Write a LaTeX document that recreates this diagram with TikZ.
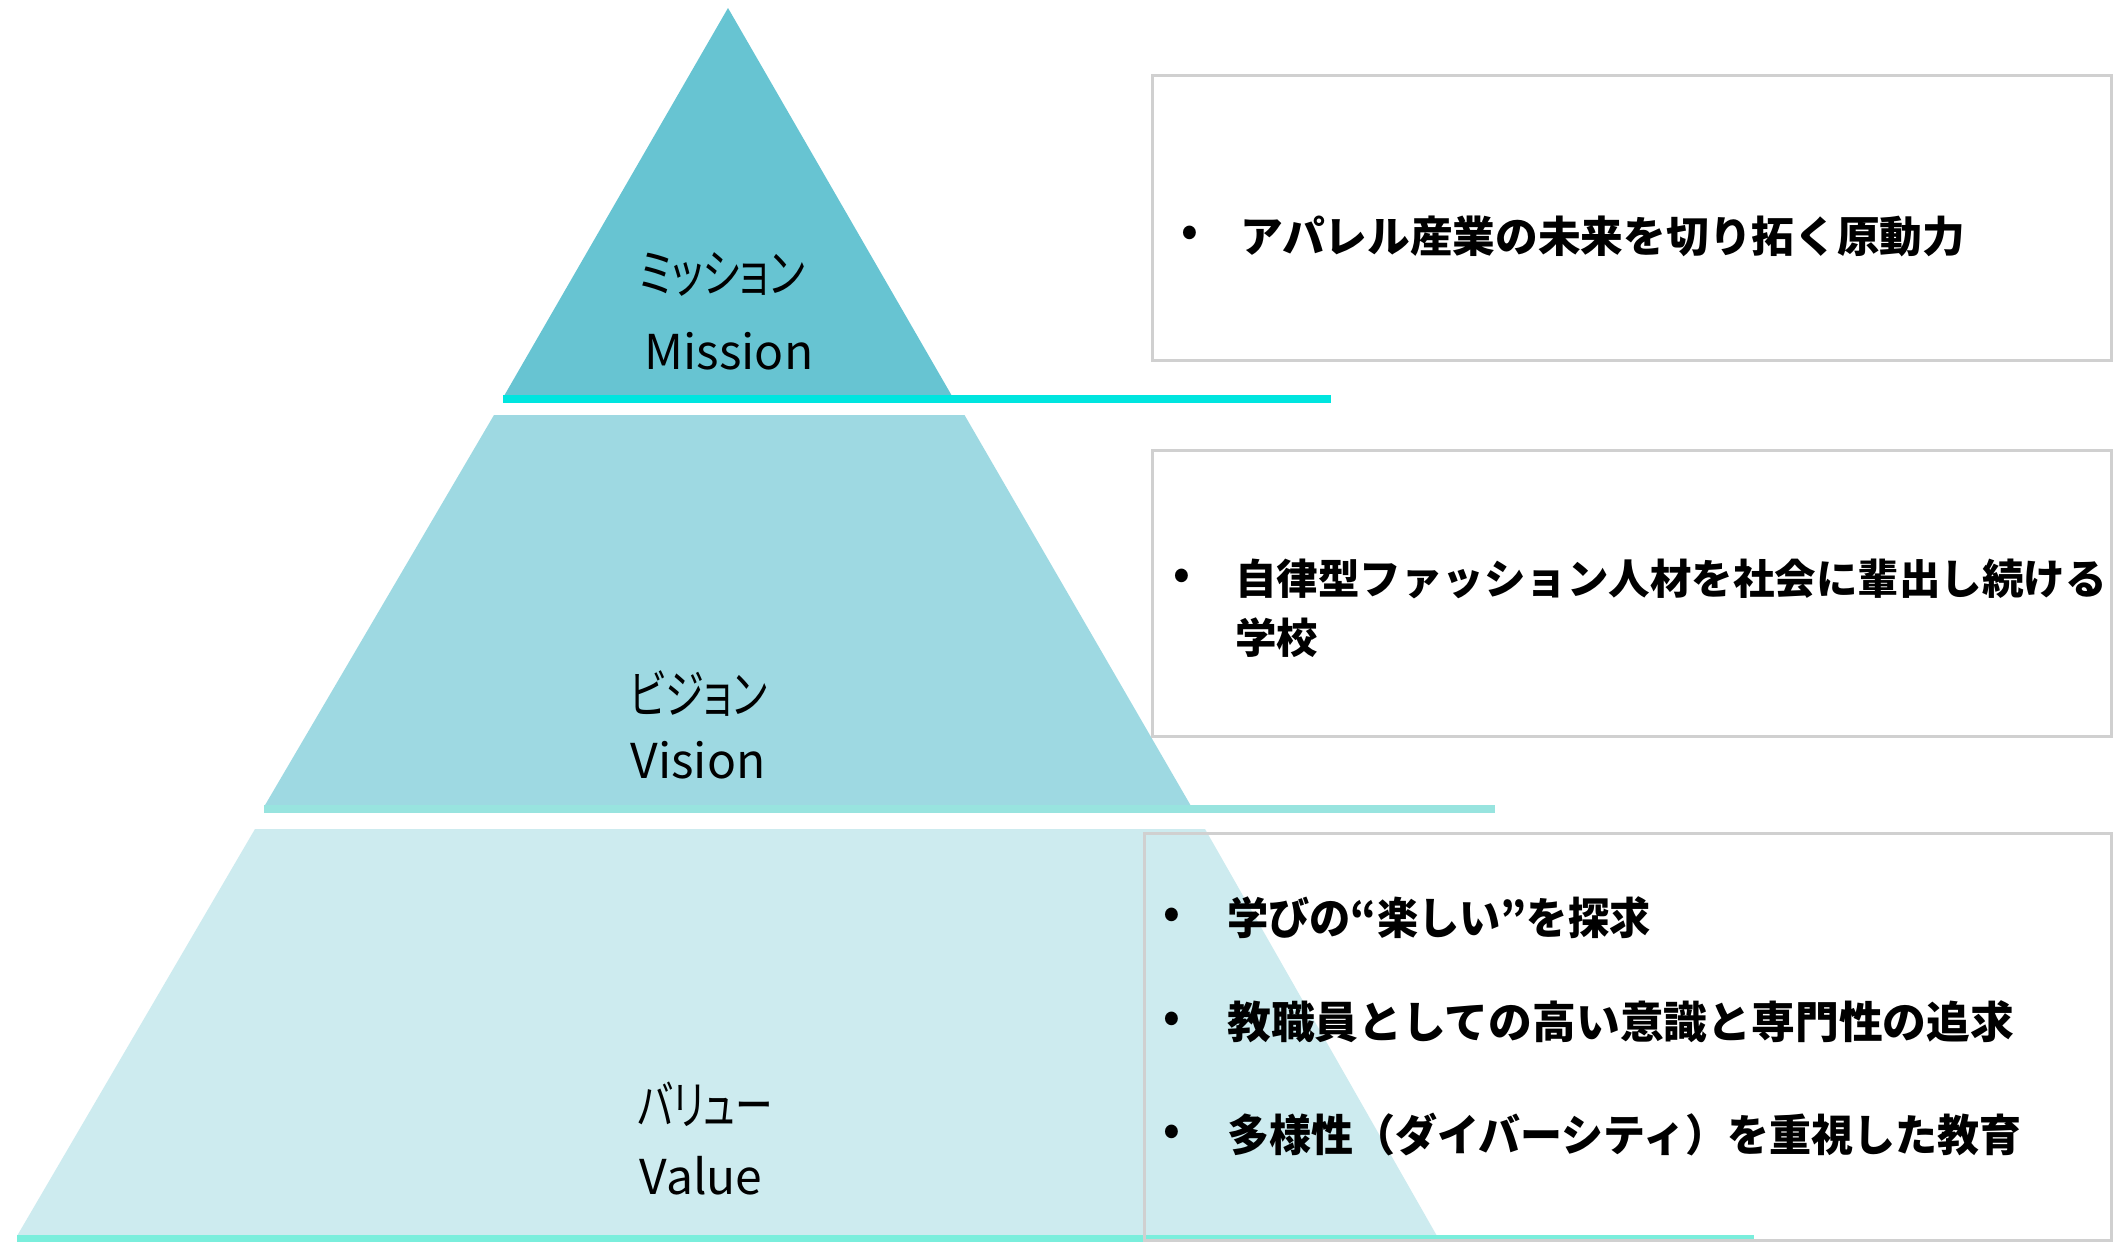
\documentclass[tikz,border=0pt]{standalone}
\usepackage{fontspec}
\newfontfamily\jp{Noto Sans CJK JP}
\newfontfamily\jplabel{Noto Sans CJK JP}[CharacterWidth=AlternateProportional]
\definecolor{missionfill}{RGB}{103,196,210}
\definecolor{visionfill}{RGB}{158,217,226}
\definecolor{valuefill}{RGB}{205,235,239}
\definecolor{missionline}{RGB}{0,229,223}
\definecolor{visionline}{RGB}{152,228,223}
\definecolor{valueline}{RGB}{122,238,220}
\definecolor{boxgray}{RGB}{208,208,208}
\tikzset{
  lbl/.style={inner sep=0pt, font=\jplabel\fontsize{48}{56}\selectfont},
  kana/.style={inner sep=0pt, font=\jplabel\fontsize{52}{60}\selectfont},
  bulletA/.style={inner sep=0pt, font=\jp\bfseries\fontsize{42}{50}\selectfont},
  txtA/.style={inner sep=0pt, anchor=west, font=\jp\bfseries\fontsize{42.7}{50}\selectfont},
  txtB/.style={inner sep=0pt, anchor=west, font=\jp\bfseries\fontsize{41.5}{48}\selectfont},
  txtC/.style={inner sep=0pt, anchor=west, font=\jp\bfseries\fontsize{43.8}{52}\selectfont},
  boxline/.style={draw=boxgray, line width=3pt}
}
\begin{document}
\begin{tikzpicture}[x=1pt,y=-1pt]
\useasboundingbox (0,0) rectangle (2121,1242);
\fill[white] (0,0) rectangle (2121,1242);
% pyramid layers
\fill[missionfill] (728,8) -- (952,396) -- (504,396) -- cycle;
\fill[visionfill] (494,415) -- (964.5,415) -- (1191,806) -- (264.5,806) -- cycle;
\fill[valuefill] (255,829) -- (1205,829) -- (1437,1236) -- (17,1236) -- cycle;
% base lines
\fill[missionline] (503,395) rectangle (1331,403);
\fill[visionline] (264,805) rectangle (1495,813);
\fill[valueline] (17,1235) rectangle (1754,1242);
% boxes
\draw[boxline] (1152,75) rectangle (2111,360);
\draw[boxline] (1152,450) rectangle (2111,736);
\draw[boxline] (1144,833) rectangle (2111,1240.5);
% labels
\node[kana] (mjp) at (722,274) {\scalebox{0.767}[1]{ミッション}};
\node[lbl, anchor=base] (men) at (729,369) {Mission};
\node[kana] (vjp) at (698,694) {\scalebox{0.752}[1]{ビジョン}};
\node[lbl, anchor=base] (ven) at (698,778) {Vision};
\node[kana] (ajp) at (705,1104) {\scalebox{0.725}[1]{バリュー}};
\node[lbl, anchor=base] (aen) at (701,1194) {Value};
% box texts
\node[bulletA] (b1) at (1190,236) {•};
\node[txtA] (t1) at (1240,236) {アパレル産業の未来を切り拓く原動力};
\node[bulletA] (b2) at (1182,579) {•};
\node[txtB] (t2) at (1235,579) {自律型ファッション人材を社会に輩出し続ける};
\node[txtB] (t2b) at (1235,638) {学校};
\node[bulletA] (b3) at (1172,918) {•};
\node[txtC] (t3) at (1227,918) {\scalebox{0.942}[1]{学びの“楽しい”を探求}};
\node[bulletA] (b4) at (1172,1022) {•};
\node[txtC] (t4) at (1227,1022) {教職員としての高い意識と専門性の追求};
\node[bulletA] (b5) at (1172,1135) {•};
\node[txtC] (t5) at (1227,1135) {\scalebox{0.959}[1]{多様性（ダイバーシティ）を重視した教育}};
\end{tikzpicture}
\end{document}
